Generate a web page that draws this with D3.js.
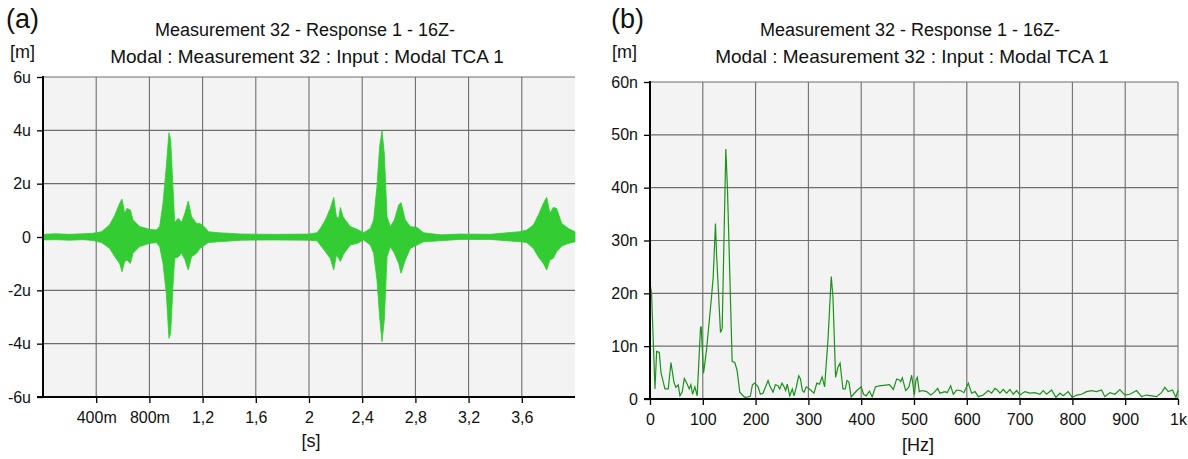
<!DOCTYPE html>
<html>
<head>
<meta charset="utf-8">
<script src="https://cdn.jsdelivr.net/npm/d3@7"></script>
<style>
  html, body { margin: 0; padding: 0; background: #ffffff; }
  svg { display: block; }
  text { font-family: "Liberation Sans", Arial, sans-serif; fill: #111; }
</style>
</head>
<body>
<svg id="chart" width="1188" height="459"></svg>
<script>
// ---------- DATA ----------
// (a) time signal envelope (time in s, displacement in micro-metres)
const timeS = [0.00,0.10,0.20,0.30,0.376,0.44,0.50,0.54,0.576,0.594,0.614,0.632,0.657,0.677,0.727,0.80,0.852,0.877,0.902,0.927,0.947,0.96,0.977,0.99,1.017,1.042,1.067,1.092,1.117,1.155,1.18,1.218,1.243,1.318,1.493,1.744,2.0,2.06,2.085,2.123,2.16,2.186,2.206,2.223,2.236,2.256,2.273,2.311,2.361,2.411,2.461,2.486,2.511,2.531,2.549,2.566,2.587,2.611,2.642,2.674,2.692,2.724,2.762,2.812,2.862,2.99,3.135,3.36,3.587,3.637,3.687,3.724,3.762,3.787,3.812,3.837,3.862,3.9,3.95,4.0];
const upperU = [0.10,0.12,0.10,0.12,0.14,0.20,0.45,0.82,1.26,1.42,0.89,1.07,1.01,0.64,0.39,0.29,0.26,0.39,1.26,2.64,3.91,3.64,1.89,0.55,0.70,0.55,0.90,1.35,0.76,0.51,0.51,0.36,0.20,0.16,0.11,0.10,0.11,0.16,0.32,0.64,1.07,1.49,0.76,0.70,1.11,0.76,0.64,0.39,0.29,0.16,0.32,0.64,1.89,3.39,3.99,3.14,0.76,0.39,0.64,1.20,1.29,0.64,0.39,0.36,0.16,0.08,0.11,0.10,0.20,0.26,0.45,0.82,1.26,1.49,0.89,1.11,1.07,0.51,0.32,0.20];
const lowerU = [-0.11,-0.10,-0.12,-0.10,-0.13,-0.21,-0.42,-0.74,-0.99,-1.30,-0.92,-0.86,-0.99,-0.61,-0.36,-0.24,-0.21,-0.36,-0.99,-2.11,-3.80,-3.61,-1.86,-0.80,-0.75,-0.60,-0.85,-1.24,-0.74,-0.61,-0.43,-0.30,-0.21,-0.18,-0.12,-0.11,-0.12,-0.14,-0.30,-0.55,-0.80,-1.24,-0.68,-0.80,-0.92,-0.68,-0.55,-0.30,-0.24,-0.11,-0.30,-0.61,-1.61,-2.99,-3.93,-3.11,-0.74,-0.36,-0.61,-0.99,-1.36,-0.86,-0.43,-0.30,-0.18,-0.14,-0.09,-0.09,-0.18,-0.21,-0.43,-0.74,-0.99,-1.24,-0.86,-0.80,-0.55,-0.34,-0.24,-0.18];

// (b) spectrum (frequency in Hz, amplitude in nano-metres)
const freqHz = [0,3,9.4,12.6,17.6,20.8,28.3,34.6,39.7,45.4,49,53.5,56.7,61,65,70.6,74.3,77.5,80.6,85,89.4,95.7,97,101.4,107,116.5,119.7,124,126,133.5,136.7,143.6,146.8,155.6,160.6,165,170,174.5,179.5,185.8,190,194,198.4,204.7,209,214,223.6,226.8,233,237.5,242.5,245.7,250,254,257,260,264.6,269.6,272.8,277,281.6,285,288.5,291.7,296,302,310.6,316,321,326,330.7,337,343.3,346.5,351.5,356,360,365.4,369.8,373,376.7,381,385.5,391.8,400,404.4,409.4,415.7,420.8,427,434.6,453.5,460.9,467.2,472.2,474.8,477.9,484.2,490.5,495.6,500.6,503.8,506.3,510,516.4,524,531.5,537.9,544.8,549.2,558.7,563,569.4,574.4,580.8,588.3,594.6,602.8,609.1,615.5,621.8,631.2,640.7,647,653.3,657.7,662.8,669.1,675.4,681.7,688,694.3,700.6,710.1,719.6,729,738.5,744.8,751.1,760.6,768.8,776.3,782.6,792,799.7,807.9,817.4,826.8,836.3,845.7,855.2,861.5,871,880.4,889.9,899.4,908.8,921.5,930.9,940.4,949.8,959.3,968.8,975.1,981.4,989.6,995.9,1000];
const ampN = [22.0,19.9,1.9,9.0,8.8,5.0,1.9,1.9,6.9,3.2,2.2,2.7,0.6,1.3,3.9,2.8,1.9,2.7,0.9,2.3,0.6,13.6,13.6,4.9,9.2,19.3,23.1,33.2,27.5,12.6,13.3,47.3,39.5,7.1,6.9,5.4,1.3,0.8,0.3,0.4,0.5,2.7,3.0,2.3,0.9,1.1,3.5,2.5,1.3,2.7,2.5,1.9,3.0,2.3,1.6,2.8,0.6,1.9,0.6,2.2,4.4,3.8,1.6,1.3,2.3,1.9,1.1,3.0,2.8,4.2,2.3,11.1,23.2,19.3,4.1,6.0,6.8,1.9,1.9,3.5,3.2,0.4,0.9,1.6,2.3,0.9,0.6,1.5,0.4,2.3,2.5,2.7,1.8,3.8,3.6,3.3,4.0,1.6,2.3,4.5,0.75,3.6,4.1,1.4,1.6,1.4,0.75,1.2,2.0,1.1,1.4,1.2,2.5,0.9,1.7,1.6,1.2,3.0,1.1,1.4,0.44,0.75,1.6,1.1,2.0,1.7,1.1,1.8,1.1,1.8,0.9,1.6,0.75,1.4,1.1,1.2,0.9,1.6,0.9,1.7,0.3,1.1,0.6,1.4,0.3,0.75,0.9,1.4,1.6,1.4,1.7,0.44,1.2,0.9,1.8,0.75,0.9,1.6,0.44,0.75,0.6,0.44,1.2,2.2,1.4,1.7,0.3,1.6];

// ticks
const yTicksA = [-6,-4,-2,0,2,4,6];
const yTickLabelsA = ["-6u","-4u","-2u","0","2u","4u","6u"];
const xTicksA = [0.4,0.8,1.2,1.6,2.0,2.4,2.8,3.2,3.6];
const xTickLabelsA = ["400m","800m","1,2","1,6","2","2,4","2,8","3,2","3,6"];
const yTicksB = [0,10,20,30,40,50,60];
const yTickLabelsB = ["0","10n","20n","30n","40n","50n","60n"];
const xTicksB = [0,100,200,300,400,500,600,700,800,900,1000];
const xTickLabelsB = ["0","100","200","300","400","500","600","700","800","900","1k"];

const titleLines = ["Measurement 32 - Response 1 - 16Z-", "Modal : Measurement 32 : Input : Modal TCA 1"];

// ---------- DRAW ----------
const svg = d3.select("#chart");

function panel(opt) {
  const g = svg.append("g");
  const x = d3.scaleLinear().domain(opt.xDomain).range([opt.left, opt.right]);
  const y = d3.scaleLinear().domain(opt.yDomain).range([opt.bottom, opt.top]);

  // plot background
  g.append("rect").attr("x", opt.left).attr("y", opt.top)
    .attr("width", opt.right - opt.left).attr("height", opt.bottom - opt.top)
    .attr("fill", "#f3f3f3");

  // grid
  const grid = g.append("g").attr("stroke", "#6e6e6e").attr("stroke-width", 1.1);
  opt.xGrid.forEach(v => grid.append("line")
    .attr("x1", x(v)).attr("x2", x(v)).attr("y1", opt.top).attr("y2", opt.bottom));
  opt.yGrid.forEach(v => grid.append("line")
    .attr("x1", opt.left).attr("x2", opt.right).attr("y1", y(v)).attr("y2", y(v)));

  opt.drawData(g, x, y);

  // axes
  const ya = d3.axisLeft(y).tickValues(opt.yTicks)
    .tickFormat((d, i) => opt.yLabels[i]).tickSize(6).tickPadding(6);
  const yg = g.append("g").attr("transform", `translate(${opt.left},0)`).call(ya);
  const xa = d3.axisBottom(x).tickValues(opt.xTicks)
    .tickFormat((d, i) => opt.xLabels[i]).tickSize(6).tickPadding(9);
  const xg = g.append("g").attr("transform", `translate(0,${opt.bottom})`).call(xa);
  [yg, xg].forEach(a => {
    a.select(".domain").remove();
    a.selectAll(".tick line").attr("stroke", "#000").attr("stroke-width", 1.3);
    a.selectAll(".tick text").attr("font-size", 16)
      .attr("font-family", "Liberation Sans, Arial, sans-serif").attr("fill", "#111");
  });
  g.append("line").attr("x1", opt.left).attr("x2", opt.left)
    .attr("y1", opt.top - 1).attr("y2", opt.bottom + 1)
    .attr("stroke", "#000").attr("stroke-width", 2);
  g.append("line").attr("x1", opt.left - 6).attr("x2", opt.right)
    .attr("y1", opt.bottom).attr("y2", opt.bottom)
    .attr("stroke", "#000").attr("stroke-width", 2);

  // labels
  const cx = (opt.left + opt.right) / 2;
  g.append("text").attr("x", cx - 4).attr("y", 36).attr("text-anchor", "middle")
    .attr("font-size", 18).text(titleLines[0]);
  g.append("text").attr("x", cx - 2).attr("y", 63).attr("text-anchor", "middle")
    .attr("font-size", 19).text(titleLines[1]);
  g.append("text").attr("x", opt.unitX).attr("y", 58).attr("font-size", 18).text("[m]");
  g.append("text").attr("x", opt.panelX).attr("y", 28).attr("font-size", 27)
    .attr("font-family", "Liberation Serif, Times New Roman, serif").text(opt.panelLabel);
  g.append("text").attr("x", opt.xLabelX).attr("y", opt.xLabelY).attr("text-anchor", "middle")
    .attr("font-size", 18).text(opt.xLabel);
}

// (a) time response
panel({
  left: 43, right: 575, top: 77, bottom: 397,
  xDomain: [0, 4], yDomain: [-6, 6],
  xGrid: xTicksA, yGrid: [-4, -2, 0, 2, 4, 6],
  yTicks: yTicksA, yLabels: yTickLabelsA,
  xTicks: xTicksA, xLabels: xTickLabelsA,
  unitX: 10, panelX: 6, panelLabel: "(a)",
  xLabel: "[s]", xLabelX: 311, xLabelY: 447,
  drawData: (g, x, y) => {
    const pts = timeS.map((t, i) => ({ t, u: upperU[i], l: lowerU[i] }));
    const area = d3.area().x(d => x(d.t)).y0(d => y(d.l)).y1(d => y(d.u));
    g.append("path").datum(pts).attr("d", area)
      .attr("fill", "#33cc33").attr("stroke", "#33cc33").attr("stroke-width", 0.8);
  }
});

// (b) spectrum
panel({
  left: 650, right: 1178, top: 82, bottom: 399,
  xDomain: [0, 1000], yDomain: [0, 60],
  xGrid: [100,200,300,400,500,600,700,800,900,1000], yGrid: [10,20,30,40,50,60],
  yTicks: yTicksB, yLabels: yTickLabelsB,
  xTicks: xTicksB, xLabels: xTickLabelsB,
  unitX: 612, panelX: 611, panelLabel: "(b)",
  xLabel: "[Hz]", xLabelX: 918, xLabelY: 451,
  drawData: (g, x, y) => {
    const pts = freqHz.map((f, i) => ({ f, a: ampN[i] }));
    const line = d3.line().x(d => x(d.f)).y(d => y(d.a));
    g.append("path").datum(pts).attr("d", line)
      .attr("fill", "none").attr("stroke", "#1b921b").attr("stroke-width", 1.2);
  }
});
</script>
</body>
</html>
